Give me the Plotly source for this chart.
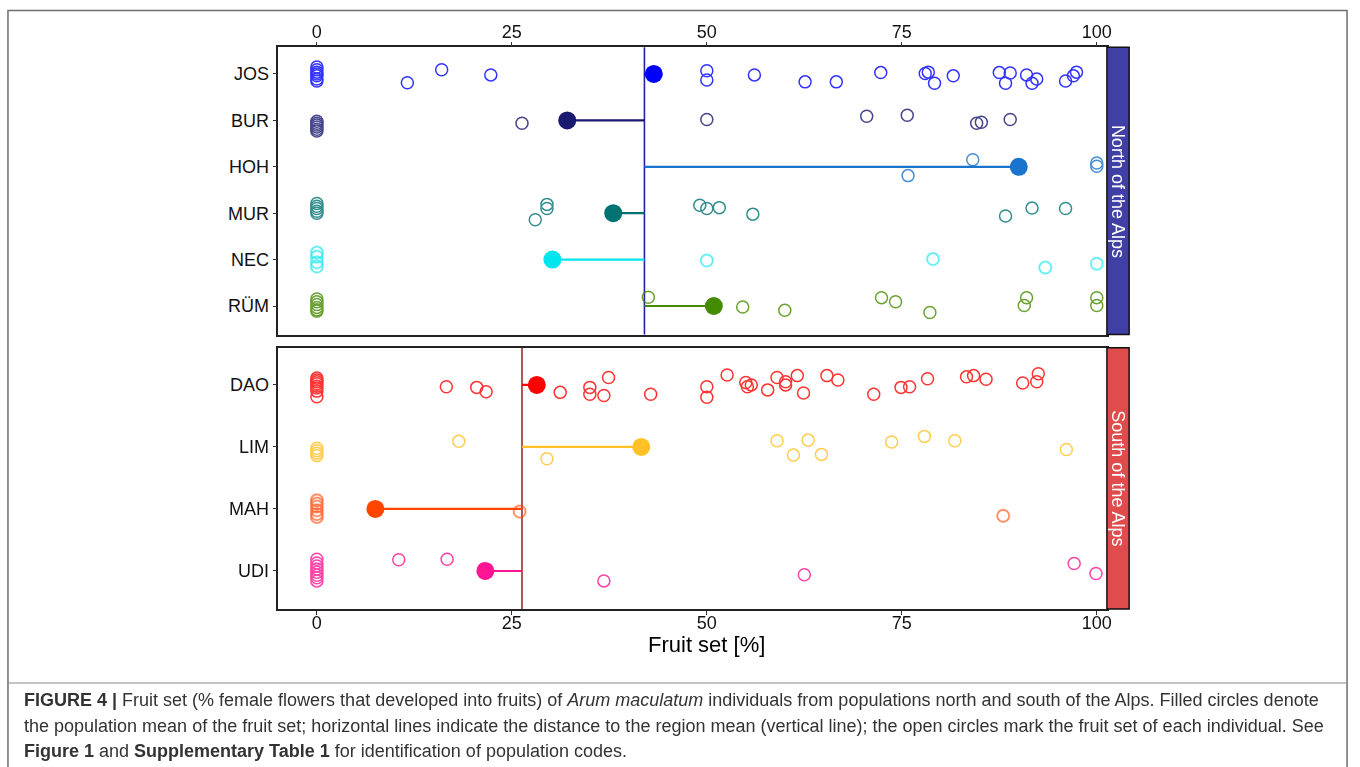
import plotly.graph_objects as go

# ---------------- data ----------------
north_pops = ["JOS", "BUR", "HOH", "MUR", "NEC", "RÜM"]
south_pops = ["DAO", "LIM", "MAH", "UDI"]

north_colors = ["#0000FF", "#191970", "#1874CD", "#007272", "#00E5EE", "#458B00"]
south_colors = ["#FF0000", "#FFC125", "#FF4500", "#FF1493"]

north_means = [43.2, 32.1, 90.0, 38.0, 30.2, 50.9]
south_means = [28.2, 41.6, 7.5, 21.6]
north_region_mean = 42.0
south_region_mean = 26.3

# individual fruit set [%] and vertical jitter (row units)
JOS_fruit = [0, 0, 0, 0, 0, 0, 0, 11.6, 16.0, 22.3, 50.0, 50.0, 56.1, 62.6, 66.6, 72.3, 78.0, 78.4,
             79.2, 81.6, 87.5, 88.9, 88.3, 91.0, 92.3, 91.7, 96.0, 97.0, 97.4]
JOS_jitter = [-0.15, -0.09, -0.04, 0.0, 0.04, 0.11, 0.15, 0.19, -0.09, 0.02, -0.07, 0.13, 0.02, 0.17,
              0.17, -0.03, -0.01, -0.04, 0.20, 0.04, -0.03, -0.02, 0.20, 0.02, 0.11, 0.20, 0.15, 0.04, -0.04]

BUR_fruit = [0, 0, 0, 0, 0, 0, 26.3, 50.0, 70.5, 75.7, 84.6, 85.2, 88.9]
BUR_jitter = [0.02, 0.06, 0.10, 0.14, 0.19, 0.23, 0.06, -0.02, -0.09, -0.11, 0.06, 0.04, -0.02]

HOH_fruit = [84.1, 75.8, 100.0, 100.0]
HOH_jitter = [-0.15, 0.19, -0.08, -0.01]

MUR_fruit = [0, 0, 0, 0, 0, 29.5, 29.5, 28.0, 49.1, 50.0, 51.6, 55.9, 88.3, 91.7, 96.0]
MUR_jitter = [-0.21, -0.15, -0.10, -0.04, 0.0, -0.19, -0.10, 0.14, -0.17, -0.10, -0.12, 0.02, 0.06, -0.11, -0.10]

NEC_fruit = [0, 0, 0, 0, 50.0, 79.0, 93.4, 100.0]
NEC_jitter = [-0.15, -0.06, 0.06, 0.15, 0.02, -0.01, 0.17, 0.09]

RUM_fruit = [0, 0, 0, 0, 0, 0, 42.5, 54.6, 60.0, 72.4, 74.2, 78.6, 91.0, 90.7, 100.0, 100.0]
RUM_jitter = [-0.15, -0.09, -0.03, 0.03, 0.08, 0.11, -0.19, 0.02, 0.09, -0.18, -0.09, 0.14, -0.18, -0.01, -0.18, -0.01]

DAO_fruit = [0, 0, 0, 0, 0, 0, 0, 0, 16.6, 20.5, 21.7, 31.2, 35.0, 35.0, 36.8, 37.4, 42.8, 50.0, 50.0,
             52.6, 55.0, 55.2, 55.7, 57.8, 59.0, 60.1, 60.1, 61.6, 62.4, 65.4, 66.8, 71.4, 74.9, 76.0,
             78.3, 83.3, 84.2, 85.8, 90.5, 92.5, 92.3]
DAO_jitter = [-0.11, -0.08, -0.05, -0.02, 0.02, 0.05, 0.10, 0.19, 0.03, 0.04, 0.11, 0.12, 0.04, 0.15,
              0.17, -0.12, 0.15, 0.03, 0.20, -0.16, -0.04, 0.03, 0.0, 0.08, -0.12, -0.05, 0.0, -0.15,
              0.13, -0.15, -0.08, 0.15, 0.04, 0.03, -0.10, -0.13, -0.15, -0.09, -0.03, -0.18, -0.05]

LIM_fruit = [0, 0, 0, 0, 18.2, 29.5, 59.0, 61.1, 63.0, 64.7, 73.7, 77.9, 81.8, 96.1]
LIM_jitter = [0.02, 0.06, 0.10, 0.14, -0.09, 0.19, -0.10, 0.13, -0.11, 0.12, -0.08, -0.17, -0.10, 0.04]

MAH_fruit = [0, 0, 0, 0, 0, 0, 26.0, 88.0]
MAH_jitter = [-0.14, -0.09, -0.04, 0.02, 0.08, 0.13, 0.04, 0.11]

UDI_fruit = [0, 0, 0, 0, 0, 0, 0, 0, 10.5, 16.7, 36.8, 62.5, 97.1, 99.9]
UDI_jitter = [-0.19, -0.13, -0.08, -0.03, 0.02, 0.07, 0.11, 0.16, -0.18, -0.19, 0.16, 0.06, -0.12, 0.04]

north_fruit = [JOS_fruit, BUR_fruit, HOH_fruit, MUR_fruit, NEC_fruit, RUM_fruit]
north_jitter = [JOS_jitter, BUR_jitter, HOH_jitter, MUR_jitter, NEC_jitter, RUM_jitter]
south_fruit = [DAO_fruit, LIM_fruit, MAH_fruit, UDI_fruit]
south_jitter = [DAO_jitter, LIM_jitter, MAH_jitter, UDI_jitter]

x_ticks = [0, 25, 50, 75, 100]
x_title = "Fruit set [%]"
strip_labels = ["North of the Alps", "South of the Alps"]

# ---------------- layout helpers ----------------
W, H = 1360, 767
def px(x):
    return x / W
def py(y):
    return 1 - y / H

FONT = "Liberation Sans, Arial, sans-serif"
x_left, x_right = px(279.3), px(1111)
top_dom = [py(334.5), py(47.3)]
bot_dom = [py(609), py(347.7)]
xrange_ = [-4.95, 101.3]

fig = go.Figure()

def add_panel(pops, colors, means, fruit, jitter, region_mean, xa, ya):
    for i, (p, c, m, f, j) in enumerate(zip(pops, colors, means, fruit, jitter)):
        # segment to region mean
        fig.add_trace(go.Scatter(x=[region_mean, m], y=[i, i], mode="lines",
                                 line=dict(color=c, width=2.2), xaxis=xa, yaxis=ya,
                                 hoverinfo="skip", showlegend=False))
        fig.add_trace(go.Scatter(x=f, y=[i + d for d in j], mode="markers",
                                 marker=dict(symbol="circle-open", size=12, color=c,
                                             line=dict(width=1.5, color=c)),
                                 opacity=0.8, xaxis=xa, yaxis=ya, showlegend=False, name=p))
        fig.add_trace(go.Scatter(x=[m], y=[i], mode="markers",
                                 marker=dict(symbol="circle", size=18, color=c),
                                 xaxis=xa, yaxis=ya, showlegend=False, name=p + " mean"))

add_panel(north_pops, north_colors, north_means, north_fruit, north_jitter, north_region_mean, "x", "y")
add_panel(south_pops, south_colors, south_means, south_fruit, south_jitter, south_region_mean, "x2", "y2")

# region mean vertical lines
fig.add_shape(type="line", xref="x", yref="y domain", x0=north_region_mean, x1=north_region_mean,
              y0=0, y1=1, line=dict(color="#2222A8", width=1.6), layer="below")
fig.add_shape(type="line", xref="x2", yref="y2 domain", x0=south_region_mean, x1=south_region_mean,
              y0=0, y1=1, line=dict(color="#A52A2A", width=1.6), layer="below")

axis_common = dict(showgrid=False, zeroline=False, showline=True, mirror=True,
                   linecolor="#222222", linewidth=1.5, ticks="outside", ticklen=4,
                   tickcolor="#333333", tickwidth=1.2,
                   tickfont=dict(family=FONT, size=18, color="#111111"))

fig.update_layout(
    width=W, height=H,
    margin=dict(l=0, r=0, t=0, b=0),
    paper_bgcolor="white", plot_bgcolor="white",
    xaxis=dict(domain=[x_left, x_right], anchor="y", side="top", range=xrange_,
               tickvals=x_ticks, ticktext=[str(t) for t in x_ticks], ticklabelstandoff=-4, **axis_common),
    yaxis=dict(domain=top_dom, anchor="x", range=[5.614, -0.575],
               tickvals=list(range(len(north_pops))), ticktext=north_pops, **axis_common),
    xaxis2=dict(domain=[x_left, x_right], anchor="y2", side="bottom", range=xrange_,
                tickvals=x_ticks, ticktext=[str(t) for t in x_ticks], ticklabelstandoff=-7, **axis_common),
    yaxis2=dict(domain=bot_dom, anchor="x2", range=[3.613, -0.60],
                tickvals=list(range(len(south_pops))), ticktext=south_pops, **axis_common),
)

# facet strips
strip_x0, strip_x1 = px(1111), px(1133.3)
for dom, fill, label in [(top_dom, "#3F3FA6", strip_labels[0]), (bot_dom, "#E04B4B", strip_labels[1])]:
    fig.add_shape(type="rect", xref="paper", yref="paper", x0=strip_x0, x1=strip_x1,
                  y0=dom[0], y1=dom[1], fillcolor=fill, line=dict(color="#111111", width=1.5))
    fig.add_annotation(xref="paper", yref="paper", x=(strip_x0 + strip_x1) / 2, y=(dom[0] + dom[1]) / 2,
                       text=label, textangle=90, showarrow=False, xanchor="center", yanchor="middle",
                       font=dict(family=FONT, size=18, color="white"))

# x axis title
fig.add_annotation(xref="paper", yref="paper", x=px(709.5), y=py(644), text=x_title, showarrow=False,
                   xanchor="center", yanchor="middle", font=dict(family=FONT, size=22, color="black"))

# figure frame and caption box
fig.add_shape(type="rect", xref="paper", yref="paper", x0=px(8), x1=px(1352), y0=-0.02, y1=py(10.5),
              line=dict(color="#6E6E6E", width=1.5), fillcolor="rgba(0,0,0,0)", layer="below")
fig.add_shape(type="line", xref="paper", yref="paper", x0=px(8), x1=px(1352), y0=py(683), y1=py(683),
              line=dict(color="#8A8A8A", width=1.2))

CAP_FONT = "Liberation Sans, Arial, sans-serif"
caption_lines = [
    "<b>FIGURE 4 |</b> Fruit set (% female flowers that developed into fruits) of <i>Arum maculatum</i> "
    "individuals from populations north and south of the Alps. Filled circles denote",
    "the population mean of the fruit set; horizontal lines indicate the distance to the region mean "
    "(vertical line); the open circles mark the fruit set of each individual. See",
    "<b>Figure 1</b> and <b>Supplementary Table 1</b> for identification of population codes.",
]
for line, yy in zip(caption_lines, [700, 726, 751]):
    fig.add_annotation(xref="paper", yref="paper", x=px(22), y=py(yy), text=line, showarrow=False,
                       xanchor="left", yanchor="middle", align="left",
                       font=dict(family=CAP_FONT, size=18, color="#333333"))

fig.write_html("out.html", config={"displayModeBar": False},
               post_script="document.body.style.margin='0';document.body.style.overflow='hidden';")
